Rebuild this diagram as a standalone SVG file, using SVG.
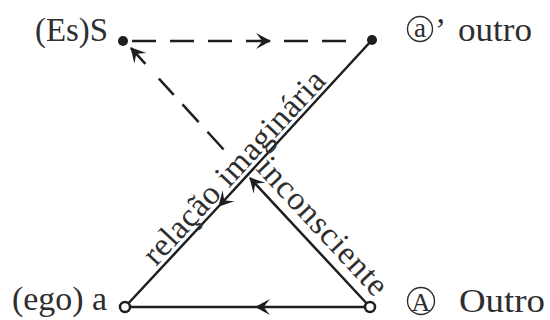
<svg xmlns="http://www.w3.org/2000/svg" width="550" height="320" viewBox="0 0 550 320">
<style>
  .lbl { font-family: "Liberation Serif", "DejaVu Serif", serif; font-size: 33px; fill: #2e2e2e; }
  .circ { font-family: "Liberation Serif", "DejaVu Serif", serif; fill: #2e2e2e; text-anchor: middle; }
  .ring { fill: none; stroke: #2e2e2e; stroke-width: 1.4; }
  .ln { fill: none; stroke: #1e1e1e; stroke-width: 2.5; }
  .dash { fill: none; stroke: #1e1e1e; stroke-width: 2.5; }
  .dot { fill: #1e1e1e; }
  .open { fill: #ffffff; stroke: #1e1e1e; stroke-width: 2.5; }
</style>
<defs>
  <marker id="arr" markerUnits="userSpaceOnUse" viewBox="-16 -10 18 20" refX="0" refY="0" markerWidth="18" markerHeight="20" orient="auto">
    <path d="M1,0 L-14,-8 Q-9,-2 -8,0 Q-9,2 -14,8 Z" fill="#1e1e1e"/>
  </marker>
</defs>
<rect width="550" height="320" fill="#ffffff"/>
<g id="connectors">
  <path class="dash" d="M132,41 L270,41 L346,41" stroke-dasharray="24 14" marker-mid="url(#arr)"/>
  <path class="ln" d="M372,40 L219,206 L125,307" marker-mid="url(#arr)"/>
  <path class="ln" d="M370,307 L256,307 L125,307" marker-mid="url(#arr)"/>
  <path class="ln" d="M370,307 L250,178" marker-end="url(#arr)"/>
  <path class="dash" d="M223.6,149.5 L131,48" stroke-dasharray="24 13 24 13 22 20 21 0" marker-end="url(#arr)"/>
  <text class="lbl" x="0" y="0" transform="translate(156,267) rotate(-47.2)" textLength="252" lengthAdjust="spacing">relação imaginária</text>
  <text class="lbl" x="0" y="0" transform="translate(255,169) rotate(47.1)" textLength="176" lengthAdjust="spacing">inconsciente</text>
</g>
<g id="node-S">
  <circle class="dot" cx="123" cy="41" r="5"/>
  <text class="lbl" x="35" y="41" textLength="73" lengthAdjust="spacingAndGlyphs">(Es)S</text>
</g>
<g id="node-a-prime">
  <circle class="dot" cx="372" cy="40" r="5"/>
  <circle class="ring" cx="420" cy="29" r="12.5"/>
  <text class="circ" x="420" y="37" font-size="27">a</text>
  <text class="lbl" x="435" y="41">’</text>
  <text class="lbl" x="458" y="41" textLength="74" lengthAdjust="spacingAndGlyphs">outro</text>
</g>
<g id="node-a">
  <circle class="open" cx="125" cy="307" r="5"/>
  <text class="lbl" x="12" y="310" textLength="95" lengthAdjust="spacingAndGlyphs">(ego) a</text>
</g>
<g id="node-A">
  <circle class="open" cx="370" cy="307" r="5"/>
  <circle class="ring" cx="421" cy="301" r="13.5"/>
  <text class="circ" x="421" y="310.5" font-size="26">A</text>
  <text class="lbl" x="459" y="312" textLength="86" lengthAdjust="spacingAndGlyphs">Outro</text>
</g>
</svg>
